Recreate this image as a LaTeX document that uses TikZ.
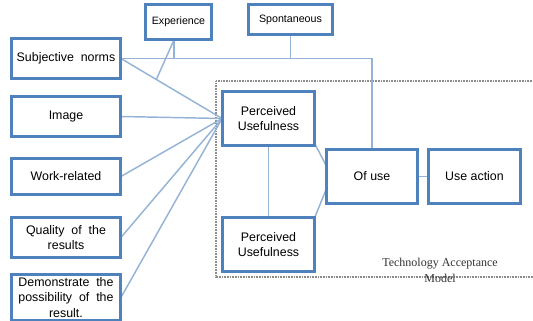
\documentclass[tikz,border=0pt]{standalone}
\usepackage{fontspec}
\setmainfont{Liberation Sans}
\newfontfamily\tamfont{Liberation Serif}
\usetikzlibrary{calc}
\definecolor{boxblue}{HTML}{4F81BD}
\definecolor{linkblue}{HTML}{95B3D7}
\definecolor{dotgray}{HTML}{8C8C8C}
\tikzset{
  box/.style={draw=boxblue, line width=1.4pt, fill=white, rectangle, inner sep=0pt, align=center, font=\fontsize{9.3}{11.8}\selectfont},
  smallbox/.style={box, font=\fontsize{8}{9.5}\selectfont},
  link/.style={draw=linkblue, line width=1.1pt},
  tamframe/.style={draw=dotgray, line width=1.1pt, dash pattern=on 0.7pt off 0.5pt}
}
\begin{document}
\begin{tikzpicture}[x=0.75pt,y=-0.75pt]
\useasboundingbox (0,0) rectangle (533,321);
% dotted frame
\draw[tamframe] (534,81) -- (216,81) -- (216,277) -- (534,277);
\node[font=\tamfont\fontsize{9}{11.5}\selectfont, text=black!80, align=center] (tamlabel) at (440,270.5) {Technology Acceptance\\Model};
% nodes
\node[box, minimum width=108*0.75pt, minimum height=39*0.75pt] (sn) at (66,58.5) {Subjective~ norms};
\node[box, minimum width=108*0.75pt, minimum height=39*0.75pt] (img) at (66,116.5) {Image};
\node[box, minimum width=108*0.75pt, minimum height=35*0.75pt] (work) at (66,176.5) {Work-related};
\node[box, minimum width=108*0.75pt, minimum height=39*0.75pt] (qual) at (66,237.5) {Quality~ of~ the\\results};
\node[box, minimum width=108*0.75pt, minimum height=45*0.75pt, font=\fontsize{9.3}{11.4}\selectfont] (demo) at (66,297.5) {Demonstrate~ the\\possibility~ of~ the\\result.};
\node[smallbox, minimum width=65*0.75pt, minimum height=34*0.75pt] (exp) at (178.5,22) {Experience};
\node[smallbox, minimum width=83*0.75pt, minimum height=29*0.75pt] (spont) at (290.5,19.5) {Spontaneous};
\node[box, minimum width=91*0.75pt, minimum height=53*0.75pt] (pu1) at (268.5,118.5) {Perceived\\Usefulness};
\node[box, minimum width=91*0.75pt, minimum height=53*0.75pt] (pu2) at (268.5,244.5) {Perceived\\Usefulness};
\node[box, minimum width=90*0.75pt, minimum height=53*0.75pt] (ofuse) at (372,176.5) {Of use};
\node[box, minimum width=91*0.75pt, minimum height=53*0.75pt] (act) at (474.5,176.5) {Use action};
% connectors
\coordinate (expfoot) at ($(exp.south)+(-4.5,0)$);
\coordinate (snmid) at ($(sn.east)!0.35!(pu1.west)$);
\draw[link] (sn.east) -| (ofuse.north);
\draw[link] (expfoot) -- (expfoot |- sn.east);
\draw[link] (expfoot) -- (snmid);
\draw[link] (spont.south) -- (spont.south |- sn.east);
\draw[link] (sn.east) -- (pu1.west);
\draw[link] (img.east) -- (pu1.west);
\draw[link] (work.east) -- (pu1.west);
\draw[link] (qual.east) -- (pu1.west);
\draw[link] (demo.east) -- (pu1.west);
\draw[link] (pu1.south) -- (pu2.north);
\draw[link] ($(pu1.south east)+(0,-2)$) -- ($(ofuse.west)+(0,-11)$);
\draw[link] (pu2.north east) -- ($(ofuse.west)+(0,13)$);
\draw[link] (ofuse.east) -- (act.west);
% redraw box borders over lines
\foreach \n in {sn,img,work,qual,demo,exp,spont,pu1,pu2,ofuse,act} {
  \draw[draw=boxblue, line width=1.4pt] (\n.south west) rectangle (\n.north east);
}
\end{tikzpicture}
\end{document}
